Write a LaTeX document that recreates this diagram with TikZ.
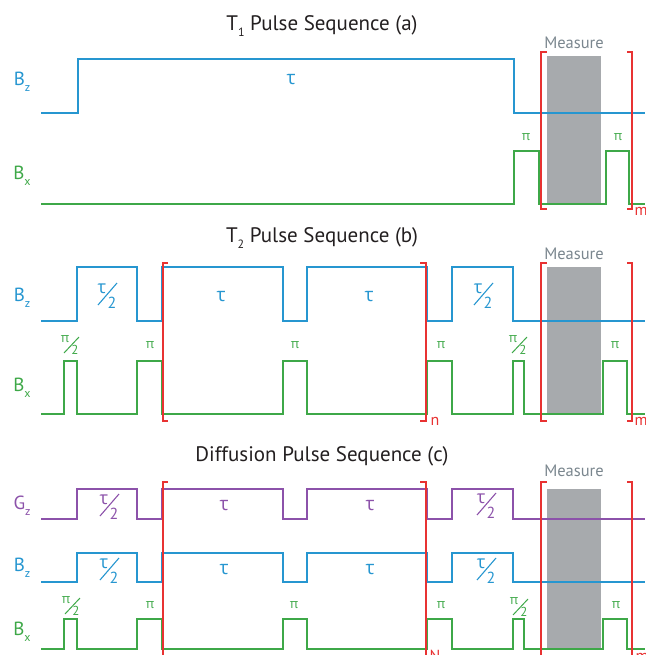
\documentclass[tikz,border=0pt]{standalone}
\usepackage{fontspec}
\setmainfont{PT Sans}
\newfontfamily\grk{Open Sans}
\definecolor{bzc}{RGB}{38,150,208}
\definecolor{bxc}{RGB}{62,168,72}
\definecolor{gzc}{RGB}{140,82,170}
\definecolor{redc}{RGB}{232,50,50}
\definecolor{grayc}{RGB}{167,170,173}
\definecolor{measc}{RGB}{122,134,142}
\definecolor{titc}{RGB}{35,31,32}
\newcommand\tauup{{\grk τ}}
\newcommand\piup{{\grk π}}
\newcommand\sub[1]{\raisebox{-0.6ex}{\fontsize{12}{12}\selectfont #1}}
% big fraction tau/2: name, x, y, colour
\newcommand\bigfrac[4]{%
  \node[fnum,text=#4] (#1t) at (#2-5,#3-6) {\fontsize{18}{18}\selectfont\tauup};
  \node[fnum,text=#4] (#1b) at (#2+5,#3+8) {\fontsize{16}{16}\selectfont 2};
  \draw[#4,line width=1.1pt] (#2+10,#3-12) -- (#2-9,#3+10);
}
% small fraction pi/2: name, x, y
\newcommand\smallfrac[3]{%
  \node[fnum,text=bxc] (#1t) at (#2-5,#3-6) {\fontsize{13}{13}\selectfont\piup};
  \node[fnum,text=bxc] (#1b) at (#2+5,#3+5) {\fontsize{13}{13}\selectfont 2};
  \draw[bxc,line width=1pt] (#2+9,#3-8) -- (#2-6,#3+8);
}
\begin{document}
\begin{tikzpicture}[x=1pt,y=-1pt,
  wave/.style={line width=1.5pt,line join=miter},
  brk/.style={redc,line width=1.3pt},
  fnum/.style={inner sep=0pt},
  title/.style={font=\fontsize{21}{21}\selectfont,text=titc,inner sep=0pt},
  chan/.style={font=\fontsize{19}{19}\selectfont,inner sep=0pt},
  lab/.style={font=\fontsize{19}{19}\selectfont,inner sep=0pt},
  plab/.style={font=\fontsize{13}{13}\selectfont,inner sep=0pt,text=bxc},
  meas/.style={font=\fontsize{16.5}{16.5}\selectfont,inner sep=0pt,text=measc},
  rlab/.style={font=\fontsize{16}{16}\selectfont,inner sep=0pt,text=redc},
  box/.style={fill=grayc,draw=none}]
\useasboundingbox (0,0) rectangle (645,655);

% ================= (a) =================
\node[title] (ta) at (322,26) {T\sub{1} Pulse Sequence (a)};
\node[chan,text=bzc] (bza) at (22,82) {B\sub{z}};
\node[chan,text=bxc] (bxa) at (22,176) {B\sub{x}};
\fill[box] (547,56) rectangle (601,204);
\node[meas] (ma) at (574,43) {Measure};
\draw[wave,bzc] (41,113) -- (78,113) -- (78,59) -- (514,59) -- (514,113) -- (645,113);
\draw[wave,bxc] (41,204) -- (514,204) -- (514,151) -- (539,151) -- (539,204) -- (606,204) -- (606,151) -- (629,151) -- (629,204) -- (645,204);
\node[lab,text=bzc] (ta1) at (291,80) {\tauup};
\node[plab] (pa1) at (526,137) {\piup};
\node[plab] (pa2) at (618,137) {\piup};
\draw[brk] (547,52) -- (541,52) -- (541,209) -- (547,209);
\draw[brk] (627,52) -- (632,52) -- (632,209) -- (627,209);
\node[rlab] (mla) at (641,211) {m};

% ================= (b) =================
\node[title] (tb) at (322,238) {T\sub{2} Pulse Sequence (b)};
\node[chan,text=bzc] (bzb) at (22,298) {B\sub{z}};
\node[chan,text=bxc] (bxb) at (22,388) {B\sub{x}};
\fill[box] (547,267) rectangle (601,414);
\node[meas] (mb) at (574,254) {Measure};
\draw[wave,bzc] (41,321) -- (77,321) -- (77,267) -- (137,267) -- (137,321) -- (162,321) -- (162,267) -- (283,267) -- (283,321) -- (307,321) -- (307,267) -- (427,267) -- (427,321) -- (452,321) -- (452,267) -- (513,267) -- (513,321) -- (645,321);
\draw[wave,bxc] (41,414) -- (64,414) -- (64,361) -- (77,361) -- (77,414) -- (137,414) -- (137,361) -- (162,361) -- (162,414) -- (283,414) -- (283,361) -- (307,361) -- (307,414) -- (427,414) -- (427,361) -- (452,361) -- (452,414) -- (513,414) -- (513,361) -- (524,361) -- (524,414) -- (603,414) -- (603,361) -- (627,361) -- (627,414) -- (645,414);
\bigfrac{fb1}{107}{295}{bzc}
\node[lab,text=bzc] (tb2) at (221,297) {\tauup};
\node[lab,text=bzc] (tb3) at (369,297) {\tauup};
\bigfrac{fb4}{483}{295}{bzc}
\smallfrac{pb1}{70}{345}
\node[plab] (pb2) at (150,345) {\piup};
\node[plab] (pb3) at (295,345) {\piup};
\node[plab] (pb4) at (441,345) {\piup};
\smallfrac{pb5}{518}{345}
\node[plab] (pb6) at (615,345) {\piup};
\draw[brk] (168,263) -- (163,263) -- (163,421) -- (168,421);
\draw[brk] (420,263) -- (426,263) -- (426,421) -- (420,421);
\node[rlab] (nlb) at (435,421) {n};
\draw[brk] (547,263) -- (541,263) -- (541,421) -- (547,421);
\draw[brk] (627,263) -- (632,263) -- (632,421) -- (627,421);
\node[rlab] (mlb) at (641,421) {m};

% ================= (c) =================
\node[title] (tc) at (322,456) {Diffusion Pulse Sequence (c)};
\node[chan,text=gzc] (gzl) at (22,506) {G\sub{z}};
\node[chan,text=bzc] (bzl) at (22,568) {B\sub{z}};
\node[chan,text=bxc] (bxl) at (22,632) {B\sub{x}};
\fill[box] (547,489) rectangle (601,649);
\node[meas] (mc) at (574,471) {Measure};
\draw[wave,gzc] (41,519) -- (77,519) -- (77,489) -- (137,489) -- (137,519) -- (162,519) -- (162,489) -- (283,489) -- (283,519) -- (307,519) -- (307,489) -- (427,489) -- (427,519) -- (452,519) -- (452,489) -- (513,489) -- (513,519) -- (645,519);
\draw[wave,bzc] (41,582) -- (77,582) -- (77,553) -- (137,553) -- (137,582) -- (162,582) -- (162,553) -- (283,553) -- (283,582) -- (307,582) -- (307,553) -- (427,553) -- (427,582) -- (452,582) -- (452,553) -- (513,553) -- (513,582) -- (645,582);
\draw[wave,bxc] (41,649) -- (64,649) -- (64,619) -- (77,619) -- (77,649) -- (137,649) -- (137,619) -- (162,619) -- (162,649) -- (283,649) -- (283,619) -- (307,619) -- (307,649) -- (427,649) -- (427,619) -- (452,619) -- (452,649) -- (513,649) -- (513,619) -- (524,619) -- (524,649) -- (603,649) -- (603,619) -- (627,619) -- (627,649) -- (645,649);
\bigfrac{fc1}{109}{506}{gzc}
\node[lab,text=gzc] (tc2) at (224,506) {\tauup};
\node[lab,text=gzc] (tc3) at (370,506) {\tauup};
\bigfrac{fc4}{486}{505}{gzc}
\bigfrac{fc5}{109}{570}{bzc}
\node[lab,text=bzc] (tc6) at (224,570) {\tauup};
\node[lab,text=bzc] (tc7) at (370,570) {\tauup};
\bigfrac{fc8}{486}{570}{bzc}
\smallfrac{pc1}{71}{606}
\node[plab] (pc2) at (150,605) {\piup};
\node[plab] (pc3) at (294,605) {\piup};
\node[plab] (pc4) at (441,605) {\piup};
\smallfrac{pc5}{519}{607}
\node[plab] (pc6) at (616,605) {\piup};
\draw[brk] (168,482) -- (163,482) -- (163,660);
\draw[brk] (420,482) -- (426,482) -- (426,660);
\node[rlab] (nlc) at (435,656) {N};
\draw[brk] (547,482) -- (541,482) -- (541,660);
\draw[brk] (627,482) -- (632,482) -- (632,660);
\node[rlab] (mlc) at (642,657) {m};
\end{tikzpicture}
\end{document}
